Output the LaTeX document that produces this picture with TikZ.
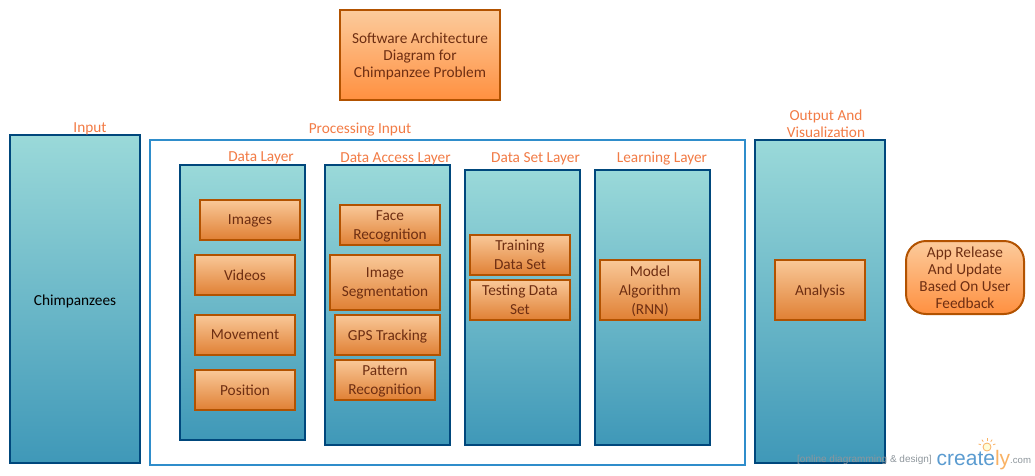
\documentclass[tikz,border=0pt]{standalone}
\usepackage{fontspec}
\setmainfont{Carlito}
\newfontfamily\markfont{Liberation Sans}
\usepackage{tikz}
\definecolor{layerline}{HTML}{00477C}
\definecolor{layertop}{HTML}{9AD9D9}
\definecolor{layerbot}{HTML}{3F98B8}
\definecolor{boxline}{HTML}{B25200}
\definecolor{boxtop}{HTML}{F9C898}
\definecolor{boxbot}{HTML}{E08034}
\definecolor{headtop}{HTML}{FCCB9C}
\definecolor{headbot}{HTML}{FF9040}
\definecolor{boxtext}{HTML}{6E2E12}
\definecolor{labeltext}{HTML}{F27B45}
\definecolor{procline}{HTML}{2F8DCB}
\definecolor{markblue}{HTML}{5A9BD0}
\definecolor{markorange}{HTML}{F9B264}
\definecolor{markgrey}{HTML}{8E969C}
\tikzset{
    layerbox/.style={draw=layerline, line width=2pt, top color=layertop, bottom color=layerbot, anchor=north west, inner sep=0pt, outer sep=0pt},
    itembox/.style={draw=boxline, line width=2pt, top color=boxtop, bottom color=boxbot, text=boxtext, align=center, inner sep=0pt, text depth=0pt, font=\fontsize{15.3}{19}\selectfont},
    tallbox/.style={itembox, execute at begin node={\rule{0pt}{16pt}}},
    headbox/.style={itembox, top color=headtop, bottom color=headbot, font=\fontsize{15.3}{17}\selectfont},
    caption/.style={text=labeltext, align=center, inner sep=0pt, text depth=0pt, font=\fontsize{15.3}{17}\selectfont},
}
\begin{document}
\begin{tikzpicture}[x=1pt, y=-1pt]
    \useasboundingbox (0,0) rectangle (1035,475);

    % Title
    \node[headbox, minimum width=160pt, minimum height=90pt] (title) at (420,55) {Software Architecture\\Diagram for\\Chimpanzee Problem};

    % Input
    \node[layerbox, minimum width=130pt, minimum height=328pt] (input) at (10,135) {};
    \node[text=black, text depth=0pt, font=\fontsize{15.3}{17}\selectfont, inner sep=0pt] (chimps) at (75,300) {Chimpanzees};
    \node[caption] (inputcap) at (90,127.5) {Input};

    % Processing frame
    \node[draw=procline, line width=2pt, fill=white, anchor=north west, minimum width=595pt, minimum height=325pt, inner sep=0pt, outer sep=0pt] (proc) at (150,140) {};
    \node[caption] (proccap) at (360,128.5) {Processing Input};

    % Layers
    \node[layerbox, minimum width=125pt, minimum height=275pt] (datalayer) at (180,165) {};
    \node[layerbox, minimum width=125pt, minimum height=280pt] (accesslayer) at (325,165) {};
    \node[layerbox, minimum width=115pt, minimum height=275pt] (setlayer) at (465,170) {};
    \node[layerbox, minimum width=115pt, minimum height=275pt] (learnlayer) at (595,170) {};
    \node[caption] (datacap) at (261,156.5) {Data Layer};
    \node[caption] (accesscap) at (395.5,157.5) {Data Access Layer};
    \node[caption] (setcap) at (535.5,157.5) {Data Set Layer};
    \node[caption] (learncap) at (662,157.5) {Learning Layer};

    % Data layer items
    \node[itembox, minimum width=100pt, minimum height=40pt] (images) at (250,220) {Images};
    \node[itembox, minimum width=100pt, minimum height=40pt] (videos) at (245,275) {Videos};
    \node[itembox, minimum width=100pt, minimum height=40pt] (movement) at (245,335) {Movement};
    \node[itembox, minimum width=100pt, minimum height=40pt] (position) at (245,390) {Position};

    % Data access items
    \node[tallbox, minimum width=100pt, minimum height=40pt] (face) at (390,225) {Face\\Recognition};
    \node[tallbox, minimum width=110pt, minimum height=55pt] (segment) at (385,282.5) {Image\\Segmentation};
    \node[itembox, minimum width=105pt, minimum height=40pt] (gps) at (387.5,335) {GPS Tracking};
    \node[tallbox, minimum width=100pt, minimum height=40pt] (pattern) at (385,380) {Pattern\\Recognition};

    % Data set items
    \node[tallbox, minimum width=100pt, minimum height=40pt] (training) at (520,255) {Training\\Data Set};
    \node[tallbox, minimum width=100pt, minimum height=40pt] (testing) at (520,300) {Testing Data\\Set};

    % Learning item
    \node[itembox, minimum width=100pt, minimum height=60pt] (model) at (650,290) {Model\\Algorithm\\(RNN)};

    % Output
    \node[layerbox, minimum width=130pt, minimum height=323pt] (output) at (755,140) {};
    \node[caption] (outputcap) at (826,123.5) {Output And\\Visualization};
    \node[itembox, minimum width=90pt, minimum height=60pt] (analysis) at (820,290) {Analysis};

    % Release
    \node[headbox, rounded corners=20pt, minimum width=118pt, minimum height=73pt] (release) at (965,277.5) {App Release\\And Update\\Based On User\\Feedback};

    % Watermark
    \node[text=markgrey, anchor=west, inner sep=0pt, font=\markfont\fontsize{10}{11}\selectfont] (online) at (797,459.5) {[online diagramming \& design]};
    \node[anchor=west, inner sep=0pt, font=\markfont\fontsize{21}{24}\selectfont] (brand) at (936.5,460.5) {\textcolor{markblue}{create}\textcolor{markorange}{ly}};
    \node[text=markgrey, anchor=west, inner sep=0pt, font=\markfont\fontsize{9.6}{11}\selectfont] (dotcom) at (1010,461) {.com};
    \begin{scope}[shift={(987,447)}]
        \draw[markorange, line width=0.8pt, fill=yellow!15] (0,0) circle (4);
        \foreach \a in {-160,-125,-90,-55,-20}
            \draw[markorange, line width=0.8pt] (\a:6.5) -- (\a:9);
    \end{scope}
\end{tikzpicture}
\end{document}
